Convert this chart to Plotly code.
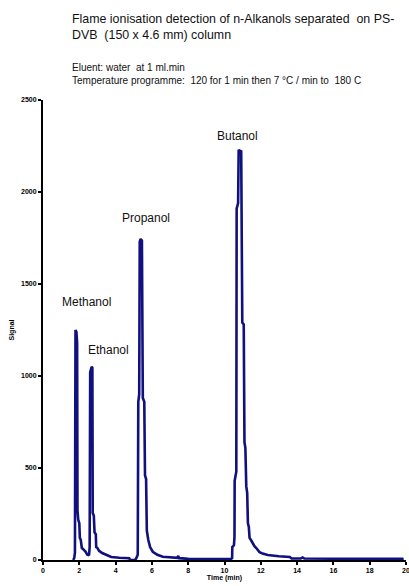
import plotly.graph_objects as go

# Chromatogram trace (time in min, FID signal)
time_min = [1.66, 1.72, 1.76, 1.79, 1.84, 1.88, 1.90, 1.94, 2.00, 2.03, 2.08, 2.14, 2.20, 2.27, 2.35, 2.43, 2.50, 2.54,
            2.57, 2.60, 2.64, 2.68, 2.72, 2.74, 2.80, 2.84, 2.91, 2.93, 3.00, 3.09, 3.26, 3.48, 3.76, 4.2, 4.75,
            4.80, 5.08, 5.14, 5.22, 5.25, 5.30, 5.33, 5.38, 5.45, 5.50, 5.58, 5.62, 5.68, 5.72, 5.80, 5.90, 6.05,
            6.30, 6.60, 7.10, 7.40, 7.45, 7.50, 8.0, 9.0, 10.35,
            10.42, 10.43, 10.52, 10.55, 10.56, 10.62, 10.65, 10.67, 10.75, 10.78, 10.85, 10.92, 10.94, 10.97,
            10.98, 11.06, 11.10, 11.15, 11.20, 11.25, 11.29, 11.34, 11.38, 11.45, 11.55, 11.65, 11.75, 11.85,
            11.93, 12.10, 12.38, 13.00, 13.60, 13.70, 14.20, 14.30, 14.40, 16.0, 18.0, 19.80, 19.83]
signal = [0, 10, 40, 1250, 1240, 1180, 270, 220, 200, 120, 110, 65, 60, 54, 45, 30, 27, 30,
          70, 1020, 1030, 1050, 1045, 255, 240, 150, 140, 70, 65, 50, 38, 27, 16, 12, 10,
          0, 0, 10, 28, 860, 900, 1730, 1745, 1735, 880, 860, 460, 440, 160, 110, 70, 45,
          28, 18, 12, 12, 22, 10, 6, 6, 5,
          10, 70, 80, 125, 430, 470, 480, 1910, 1940, 2230, 2220, 2225, 1760, 1740,
          1290, 1280, 640, 610, 400, 365, 200, 180, 120, 110, 90, 75, 65, 50,
          43, 35, 27, 20, 16, 8, 8, 14, 8, 7, 6, 6, 0]

peak_names = ["Methanol", "Ethanol", "Propanol", "Butanol"]
peak_label_x = [2.37, 3.59, 5.69, 10.72]
peak_label_y = [1402, 1141, 1859, 2304]

x_ticks = [0, 2, 4, 6, 8, 10, 12, 14, 16, 18, 20]
y_ticks = [0, 500, 1000, 1500, 2000, 2500]

FONT = "Liberation Sans, Arial, sans-serif"

fig = go.Figure()
fig.add_trace(go.Scatter(x=time_min, y=signal, mode="lines",
                         line=dict(color="#10107f", width=2.6), showlegend=False))

annotations = []
for name, ax, ay in zip(peak_names, peak_label_x, peak_label_y):
    annotations.append(dict(x=ax, y=ay, xref="x", yref="y", text=name, showarrow=False,
                            font=dict(family=FONT, size=12, color="#111111")))

annotations.append(dict(x=(70 - 43) / 363, y=(560 - 10) / 460, xref="paper", yref="paper",
                        xanchor="left", yanchor="top", align="left", showarrow=False,
                        text="Flame ionisation detection of n-Alkanols separated  on PS-<br>DVB  (150 x 4.6 mm) column",
                        font=dict(family=FONT, size=12.4, color="#111111")))
annotations.append(dict(x=(70 - 43) / 363, y=(560 - 60) / 460, xref="paper", yref="paper",
                        xanchor="left", yanchor="top", align="left", showarrow=False,
                        text="Eluent: water  at 1 ml.min<br>Temperature programme:  120 for 1 min then 7 \u00b0C / min to  180 C",
                        font=dict(family=FONT, size=10, color="#111111")))

fig.update_layout(
    width=409, height=586,
    margin=dict(l=43, r=3, t=100, b=26, autoexpand=False),
    paper_bgcolor="white", plot_bgcolor="white",
    annotations=annotations,
    font=dict(family=FONT, color="black"),
    xaxis=dict(range=[0, 20], tickvals=x_ticks, ticktext=[str(v) for v in x_ticks],
               showline=True, linecolor="black", linewidth=2, ticks="outside", ticklen=3,
               tickwidth=1.5, tickcolor="black", showgrid=False, zeroline=False,
               ticklabeloverflow="allow", automargin=False,
               tickfont=dict(family=FONT, size=7, color="black", weight="bold"),
               title=dict(text="<b>Time (min)</b>", font=dict(family=FONT, size=7, color="black"), standoff=1)),
    yaxis=dict(range=[0, 2500], tickvals=y_ticks, ticktext=[str(v) for v in y_ticks],
               showline=True, linecolor="black", linewidth=2, ticks="outside", ticklen=3,
               tickwidth=1.5, tickcolor="black", showgrid=False, zeroline=False, automargin=False,
               tickfont=dict(family=FONT, size=7, color="black", weight="bold"),
               title=dict(text="<b>Signal</b>", font=dict(family=FONT, size=7, color="black"), standoff=6)),
)

fig.write_html("out.html", config={"displayModeBar": False},
               post_script="document.body.style.margin='0';document.body.style.overflow='hidden';")
